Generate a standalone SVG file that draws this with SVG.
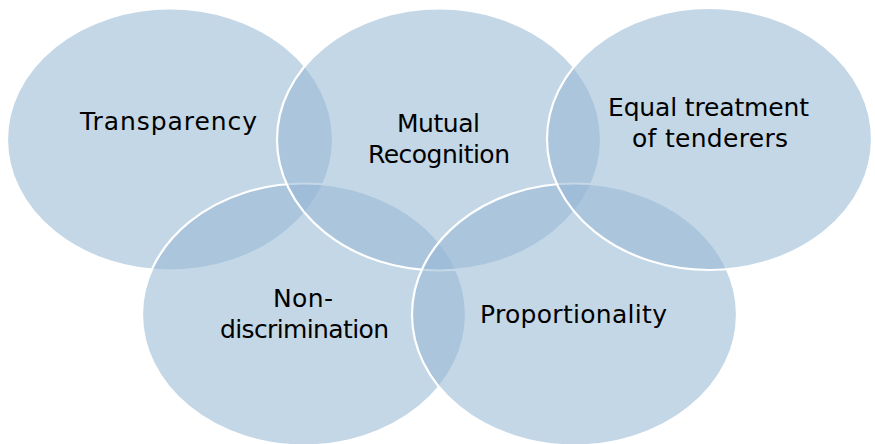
<svg xmlns="http://www.w3.org/2000/svg" width="875" height="444" viewBox="0 0 875 444">
<style>
.c{fill:#95B8D5;fill-opacity:0.56;stroke:#FFFFFF;stroke-width:2.2}
.t{font-family:"DejaVu Sans",sans-serif;font-size:25px;fill:#000000;text-anchor:middle}
</style>
<rect width="875" height="444" fill="#FFFFFF"/>
<g id="transparency">
<ellipse class="c" cx="170" cy="139.5" rx="163" ry="131"/>
<text class="t" x="168.5" y="130" textLength="177">Transparency</text>
</g>
<g id="non-discrimination">
<ellipse class="c" cx="304" cy="314.5" rx="162" ry="131"/>
<text class="t" x="303" y="307" textLength="60">Non-</text>
<text class="t" x="304.5" y="338" textLength="169">discrimination</text>
</g>
<g id="mutual-recognition">
<ellipse class="c" cx="439" cy="139.5" rx="162" ry="131"/>
<text class="t" x="438.5" y="132" textLength="83">Mutual</text>
<text class="t" x="439" y="163" textLength="142">Recognition</text>
</g>
<g id="proportionality">
<ellipse class="c" cx="574.5" cy="314.5" rx="162.5" ry="131"/>
<text class="t" x="573.5" y="323" textLength="187">Proportionality</text>
</g>
<g id="equal-treatment">
<ellipse class="c" cx="709.5" cy="139" rx="162.5" ry="131"/>
<text class="t" x="708.5" y="116" textLength="201">Equal treatment</text>
<text class="t" x="710" y="147" textLength="156">of tenderers</text>
</g>
<g id="connectors"></g>
</svg>
